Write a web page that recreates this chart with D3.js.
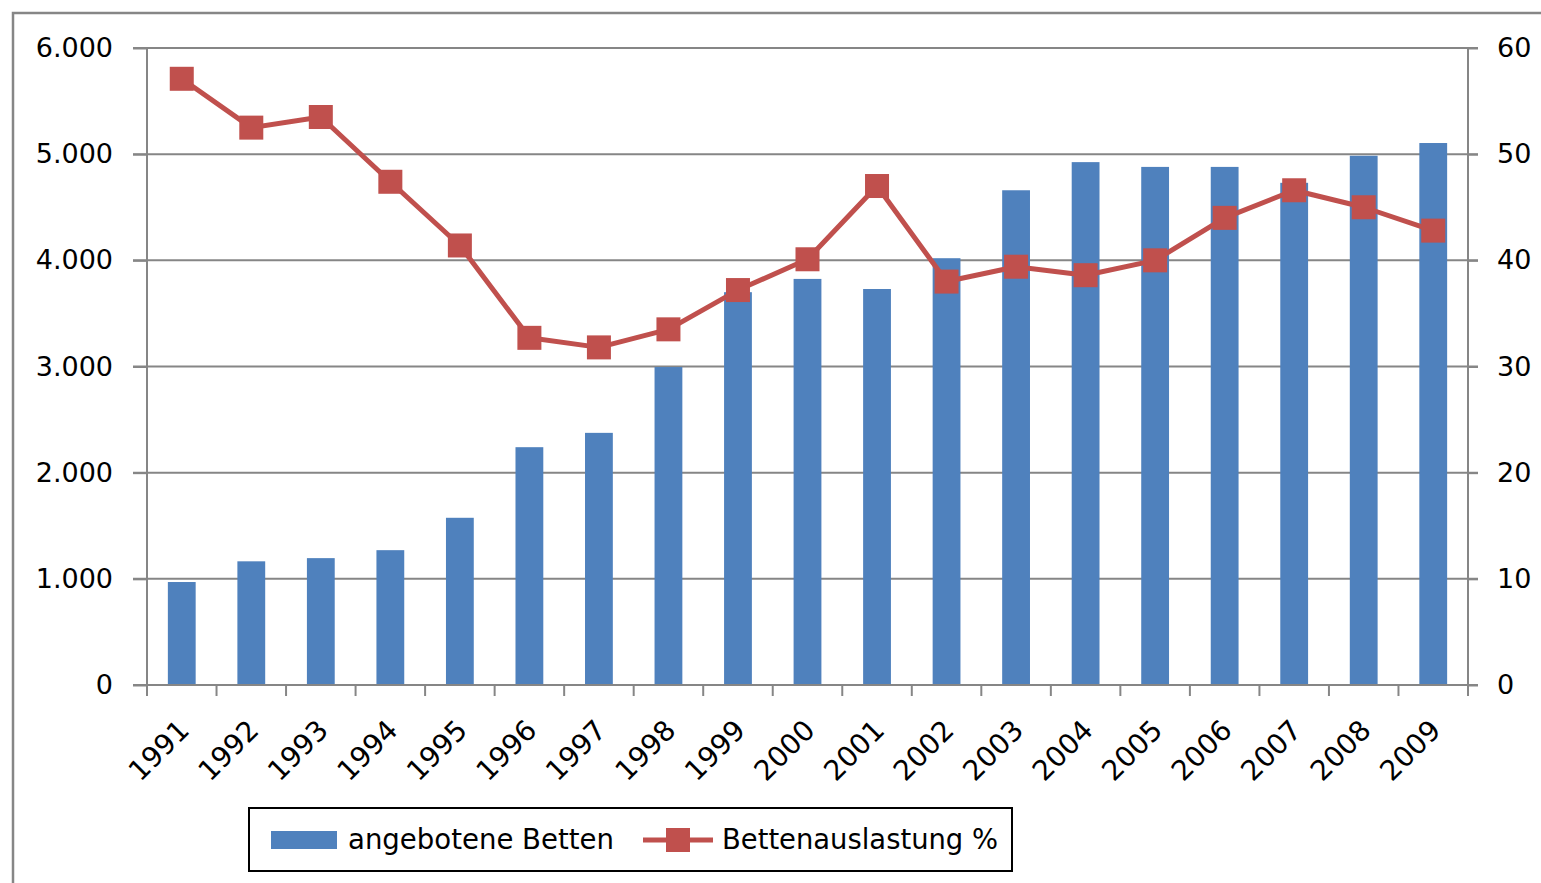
<!DOCTYPE html>
<html>
<head>
<meta charset="utf-8">
<script src="https://cdn.jsdelivr.net/npm/d3@7"></script>
<style>
  body { margin: 0; background: #fff; }
  svg { display: block; }
  text { font-family: 'DejaVu Sans', sans-serif; fill: #000; }
</style>
</head>
<body>
<div id="chart"></div>
<script>
const years = ['1991', '1992', '1993', '1994', '1995', '1996', '1997', '1998', '1999', '2000',
  '2001', '2002', '2003', '2004', '2005', '2006', '2007', '2008', '2009'];
const betten = [970, 1165, 1195, 1270, 1575, 2240, 2375, 2995, 3700, 3825,
  3730, 4020, 4660, 4925, 4880, 4880, 4730, 4985, 5105];
const auslastung = [57.1, 52.5, 53.5, 47.4, 41.4, 32.7, 31.8, 33.5, 37.2, 40.1,
  47.0, 38.0, 39.4, 38.6, 40.0, 44.0, 46.6, 45.0, 42.8];
const leftTicks = [0, 1000, 2000, 3000, 4000, 5000, 6000];
const rightTicks = [0, 10, 20, 30, 40, 50, 60];

const WIDTH = 1541;
const HEIGHT = 883;
const plot = { left: 147, right: 1468, top: 48, bottom: 685 };
const barColor = '#4f81bd';
const lineColor = '#c0504d';
const gridColor = '#868686';
const narrowFont = "'Liberation Sans Narrow', 'DejaVu Sans Condensed', sans-serif";

const svg = d3.select('#chart').append('svg')
  .attr('width', WIDTH)
  .attr('height', HEIGHT);

// outer chart frame
svg.append('rect')
  .attr('x', 13).attr('y', 13)
  .attr('width', WIDTH + 10).attr('height', HEIGHT + 10)
  .attr('fill', 'none')
  .attr('stroke', gridColor)
  .attr('stroke-width', 2.5);

const x = d3.scaleBand().domain(years).range([plot.left, plot.right]);
const yLeft = d3.scaleLinear().domain([0, 6000]).range([plot.bottom, plot.top]);
const yRight = d3.scaleLinear().domain([0, 60]).range([plot.bottom, plot.top]);

const fmt = d3.formatLocale({ decimal: ',', thousands: '.', grouping: [3], currency: ['', ' €'] }).format(',d');

// gridlines
svg.append('g')
  .selectAll('line')
  .data(leftTicks.slice(1))
  .join('line')
  .attr('x1', plot.left - 14)
  .attr('x2', plot.right + 10)
  .attr('y1', (d) => yLeft(d))
  .attr('y2', (d) => yLeft(d))
  .attr('stroke', gridColor)
  .attr('stroke-width', 2);

// left axis
const leftAxis = svg.append('g')
  .attr('transform', `translate(${plot.left},0)`)
  .call(d3.axisLeft(yLeft).tickValues(leftTicks).tickFormat(fmt).tickSize(14).tickPadding(20));
leftAxis.select('.domain').attr('stroke', gridColor).attr('stroke-width', 2).attr('d', `M0,${plot.top}V${plot.bottom}`);
leftAxis.selectAll('.tick line').attr('stroke', gridColor).attr('stroke-width', 2);
leftAxis.selectAll('.tick text').style('font-size', '27px').attr('fill', '#000');

// right axis
const rightAxis = svg.append('g')
  .attr('transform', `translate(${plot.right},0)`)
  .call(d3.axisRight(yRight).tickValues(rightTicks).tickSize(10).tickPadding(19));
rightAxis.select('.domain').attr('stroke', gridColor).attr('stroke-width', 2).attr('d', `M0,${plot.top}V${plot.bottom}`);
rightAxis.selectAll('.tick line').attr('stroke', gridColor).attr('stroke-width', 2);
rightAxis.selectAll('.tick text').style('font-size', '27px').attr('fill', '#000');

// bars
svg.append('g')
  .selectAll('rect')
  .data(betten)
  .join('rect')
  .attr('x', (d, i) => x(years[i]) + x.bandwidth() * 0.3)
  .attr('width', x.bandwidth() * 0.4)
  .attr('y', (d) => yLeft(d))
  .attr('height', (d) => yLeft(0) - yLeft(d))
  .attr('fill', barColor);

// x axis
const xAxis = svg.append('g')
  .attr('transform', `translate(0,${plot.bottom})`)
  .call(d3.axisBottom(x).tickSize(0).tickPadding(0));
xAxis.select('.domain').attr('stroke', gridColor).attr('stroke-width', 2).attr('d', `M${plot.left - 14},0H${plot.right + 10}`);
xAxis.selectAll('.tick text')
  .style('font-size', '28px')
  .attr('text-anchor', 'end')
  .attr('dy', 0)
  .attr('transform', 'translate(9,47) rotate(-45)');

// category boundary ticks
svg.append('g')
  .selectAll('line')
  .data(years.concat(['end']))
  .join('line')
  .attr('x1', (d, i) => (i < years.length ? x(d) : plot.right))
  .attr('x2', (d, i) => (i < years.length ? x(d) : plot.right))
  .attr('y1', plot.bottom)
  .attr('y2', plot.bottom + 11)
  .attr('stroke', gridColor)
  .attr('stroke-width', 2);

// line series
const cx = (i) => x(years[i]) + x.bandwidth() / 2;
svg.append('path')
  .datum(auslastung)
  .attr('fill', 'none')
  .attr('stroke', lineColor)
  .attr('stroke-width', 5)
  .attr('stroke-linejoin', 'round')
  .attr('d', d3.line().x((d, i) => cx(i)).y((d) => yRight(d)));

svg.append('g')
  .selectAll('rect')
  .data(auslastung)
  .join('rect')
  .attr('x', (d, i) => cx(i) - 12)
  .attr('y', (d) => yRight(d) - 12)
  .attr('width', 24)
  .attr('height', 24)
  .attr('fill', lineColor);

// legend
const legend = svg.append('g').attr('transform', 'translate(249,808)');
legend.append('rect')
  .attr('width', 763).attr('height', 63)
  .attr('fill', '#fff')
  .attr('stroke', '#000')
  .attr('stroke-width', 2);
legend.append('rect')
  .attr('x', 22).attr('y', 23).attr('width', 66).attr('height', 18)
  .attr('fill', barColor);
legend.append('text')
  .attr('x', 99).attr('y', 41)
  .style('font-size', '28px')
  .style('font-family', narrowFont)
  .attr('textLength', 266)
  .attr('lengthAdjust', 'spacingAndGlyphs')
  .text('angebotene Betten');
legend.append('line')
  .attr('x1', 394).attr('x2', 464).attr('y1', 32).attr('y2', 32)
  .attr('stroke', lineColor).attr('stroke-width', 5);
legend.append('rect')
  .attr('x', 417).attr('y', 20).attr('width', 24).attr('height', 24)
  .attr('fill', lineColor);
legend.append('text')
  .attr('x', 473).attr('y', 41)
  .style('font-size', '28px')
  .style('font-family', narrowFont)
  .attr('textLength', 276)
  .attr('lengthAdjust', 'spacingAndGlyphs')
  .text('Bettenauslastung %');
</script>
</body>
</html>
